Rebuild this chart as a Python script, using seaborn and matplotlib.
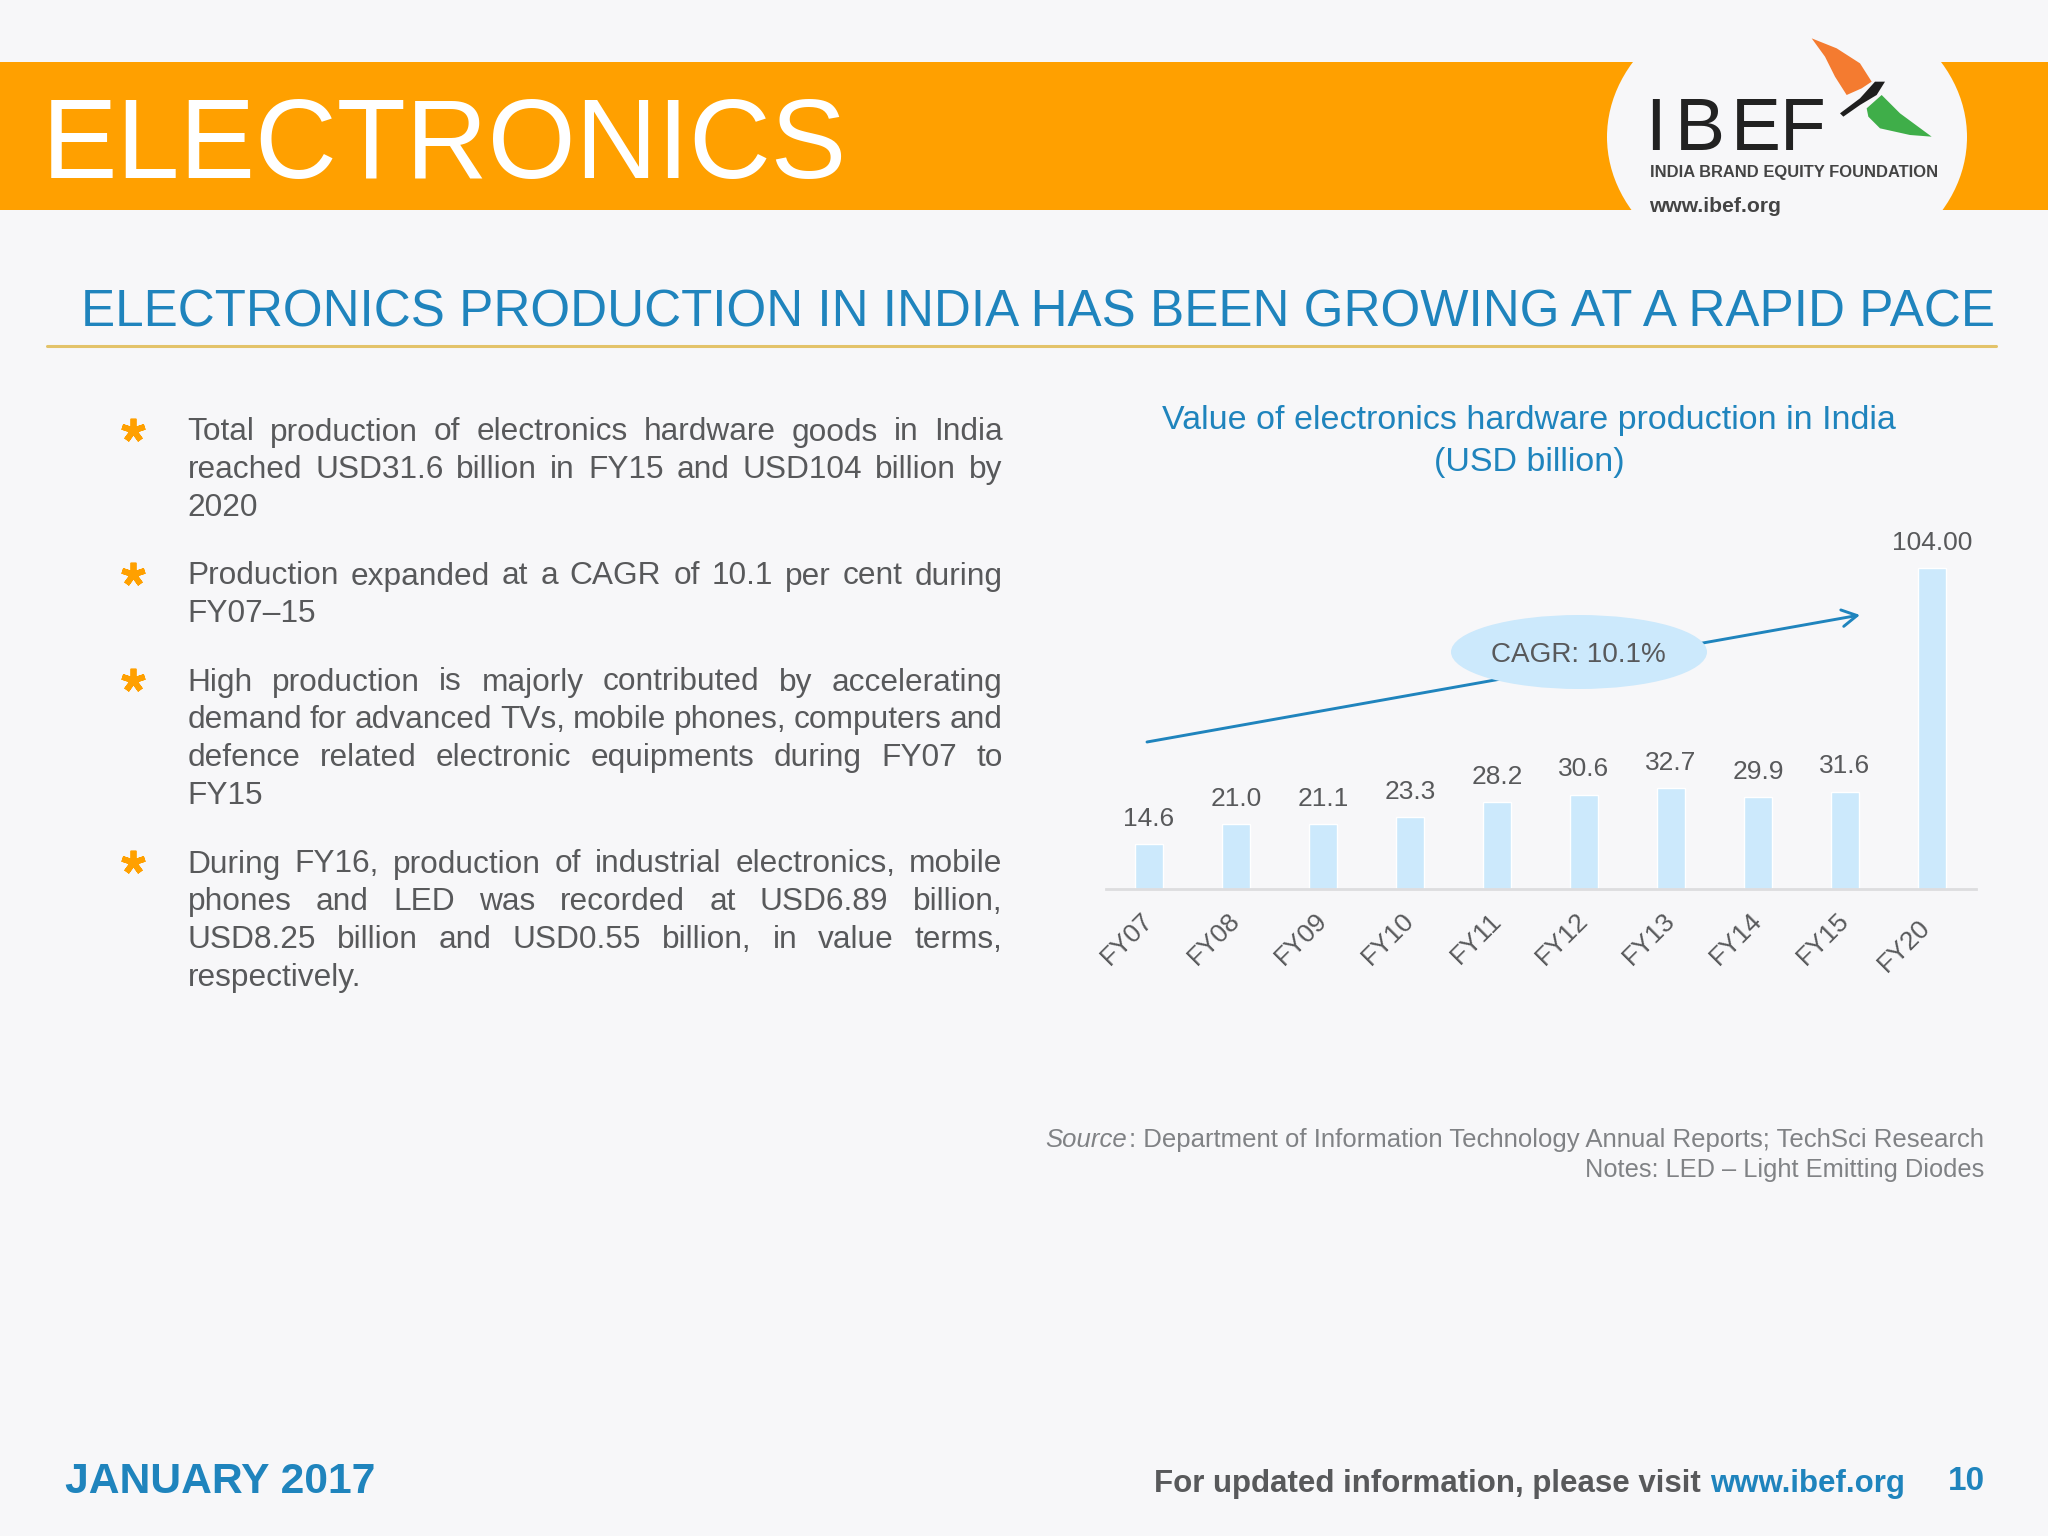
import matplotlib
matplotlib.use("Agg")
import matplotlib.pyplot as plt
from matplotlib.patches import Ellipse, Polygon, Rectangle
from matplotlib.transforms import ScaledTranslation
import seaborn as sns

years = ["FY07", "FY08", "FY09", "FY10", "FY11", "FY12", "FY13", "FY14", "FY15", "FY20"]
production = [14.6, 21.0, 21.1, 23.3, 28.2, 30.6, 32.7, 29.9, 31.6, 104.0]
value_labels = ["14.6", "21.0", "21.1", "23.3", "28.2", "30.6", "32.7", "29.9", "31.6", "104.00"]

bullets = [
    ["Total production of electronics hardware goods in India",
     "reached USD31.6 billion in FY15 and USD104 billion by",
     "2020"],
    ["Production expanded at a CAGR of 10.1 per cent during",
     "FY07–15"],
    ["High production is majorly contributed by accelerating",
     "demand for advanced TVs, mobile phones, computers and",
     "defence related electronic equipments during FY07 to",
     "FY15"],
    ["During FY16, production of industrial electronics, mobile",
     "phones and LED was recorded at USD6.89 billion,",
     "USD8.25 billion and USD0.55 billion, in value terms,",
     "respectively."],
]
bullet_tops = [429, 573, 679, 861]

BG = "#F7F7F9"
ORANGE = "#FFA000"
BLUE = "#1F84BD"
GREY = "#58595B"
BAR = "#CCE9FC"

sns.set_theme(style="white")
plt.rcParams["font.family"] = ["Liberation Sans", "DejaVu Sans"]

fig = plt.figure(figsize=(20.48, 15.36), dpi=100, facecolor=BG)

# whole slide in pixel coordinates
bg = fig.add_axes([0, 0, 1, 1])
bg.set_xlim(0, 2048)
bg.set_ylim(1536, 0)
bg.axis("off")

bg.add_patch(Rectangle((0, 62), 2048, 148, color=ORANGE, lw=0))
bg.add_patch(Ellipse((1787, 137), 360, 290, color=BG, lw=0))
bg.text(42, 137, "ELECTRONICS", color="white", fontsize=81.5, va="center_baseline")

# logo
for letter, lx in zip("IBEF", [1645, 1675, 1731, 1780]):
    bg.text(lx, 150, letter, color="#222222", fontsize=54, va="baseline")
bg.text(1650, 173, "INDIA BRAND EQUITY FOUNDATION", color="#444444", fontsize=11.9,
        weight="bold", va="center")
bg.text(1649, 206, "www.ibef.org", color="#444444", fontsize=15.2, weight="bold", va="center")


def logo_pts(pts):
    return [(1560 + a / 3, 20 + b / 3) for a, b in pts]


bg.add_patch(Polygon(logo_pts([(755, 55), (830, 85), (900, 130), (935, 185), (905, 205),
                               (860, 225), (825, 170), (795, 110)]), color="#F47B30", lw=0))
bg.add_patch(Polygon(logo_pts([(965, 225), (1020, 280), (1115, 350), (1050, 345), (960, 325),
                               (925, 290), (920, 265)]), color="#3FAE49", lw=0))
bg.add_patch(Polygon(logo_pts([(840, 280), (900, 235), (945, 185), (975, 185), (950, 225),
                               (900, 255), (850, 290)]), color="#1E1E1E", lw=0))

# heading
bg.text(81, 313, "ELECTRONICS PRODUCTION IN INDIA HAS BEEN GROWING AT A RAPID PACE",
        color=BLUE, fontsize=36.8, va="center")
bg.plot([47, 1996], [346, 346], color="#E3C36A", lw=2.2)

# justified bullets
renderer = fig.canvas.get_renderer()


def word_width(word, size):
    t = bg.text(0, 0, word, fontsize=size)
    w = t.get_window_extent(renderer).width
    t.remove()
    return w


TEXT_L, TEXT_R = 187.5, 1002.5
BODY = 22.8
for top, lines in zip(bullet_tops, bullets):
    bg.plot([133], [top + 1], marker=(5, 2, 0), ms=17, mew=4.2, color=ORANGE, ls="none")
    for n, line in enumerate(lines):
        y = top + n * 37.7
        words = line.split(" ")
        widths = [word_width(w, BODY) for w in words]
        if n == len(lines) - 1:
            gap = word_width("a a", BODY) - 2 * word_width("a", BODY)
        else:
            gap = (TEXT_R - TEXT_L - sum(widths)) / (len(words) - 1)
        x = TEXT_L
        for w, wd in zip(words, widths):
            bg.text(x, y, w, fontsize=BODY, color=GREY, va="center_baseline")
            x += wd + gap

# chart
bg.text(1529, 421, "Value of electronics hardware production in India", color=BLUE,
        fontsize=24.5, ha="center", va="center")
bg.text(1529, 462, "(USD billion)", color=BLUE, fontsize=24.5, ha="center", va="center")

ax = fig.add_axes([1105.5 / 2048, (1536 - 889) / 1536, 870 / 2048, 370 / 1536])
ax.patch.set_alpha(0)
sns.barplot(x=years, y=production, color=BAR, saturation=1, width=0.32, ax=ax)
ax.set_xlim(-0.5, 9.5)
ax.set_ylim(0, 120)
ax.bar_label(ax.containers[0], labels=value_labels, padding=9.5, fontsize=19, color=GREY)
ax.set_yticks([])
ax.set_xlabel("")
ax.set_ylabel("")
ax.tick_params(axis="x", length=0, pad=14)
plt.setp(ax.get_xticklabels(), rotation=45, ha="right", rotation_mode="anchor",
         fontsize=19, color=GREY)
for lab in ax.get_xticklabels():
    if lab.get_text() == "FY20":
        shift = ScaledTranslation(-14 / 100, -7 / 100, fig.dpi_scale_trans)
    else:
        shift = ScaledTranslation(-8 / 100, 0, fig.dpi_scale_trans)
    lab.set_transform(lab.get_transform() + shift)
sns.despine(ax=ax, left=True)
ax.spines["bottom"].set_color("#DDDDDF")
ax.spines["bottom"].set_linewidth(2)

# CAGR arrow on top of the chart
top = fig.add_axes([0, 0, 1, 1])
top.set_xlim(0, 2048)
top.set_ylim(1536, 0)
top.axis("off")
top.annotate("", xy=(1860, 615), xytext=(1147, 742),
             arrowprops=dict(arrowstyle="->,head_length=0.9,head_width=0.5", color=BLUE, lw=2.1,
                             shrinkA=0, shrinkB=0))
top.add_patch(Ellipse((1579, 652), 256, 74, color=BAR, lw=0, zorder=3))
top.text(1578, 655, "CAGR: 10.1%", fontsize=20.1, color=GREY, ha="center", va="center", zorder=4)

# source
SRC = "#808285"
top.text(1984, 1140, ": Department of Information Technology Annual Reports; TechSci Research",
         fontsize=18.5, color=SRC, ha="right", va="center")
top.text(1127, 1140, "Source", fontsize=18.5, color=SRC, style="italic", ha="right", va="center")
top.text(1984, 1170, "Notes: LED – Light Emitting Diodes", fontsize=18.3, color=SRC,
         ha="right", va="center")

# footer
top.text(65, 1482, "JANUARY 2017", fontsize=30.7, color=BLUE, weight="bold", va="center")
top.text(1905, 1484, "www.ibef.org", fontsize=22.5, color=BLUE, weight="bold", ha="right", va="center")
top.text(1701, 1484, "For updated information, please visit", fontsize=22.5, color=GREY,
         weight="bold", ha="right", va="center")
top.text(1985, 1482, "10", fontsize=24, color=BLUE, weight="bold", ha="right", va="center")

fig.savefig("out.png", dpi=100, facecolor=BG)
